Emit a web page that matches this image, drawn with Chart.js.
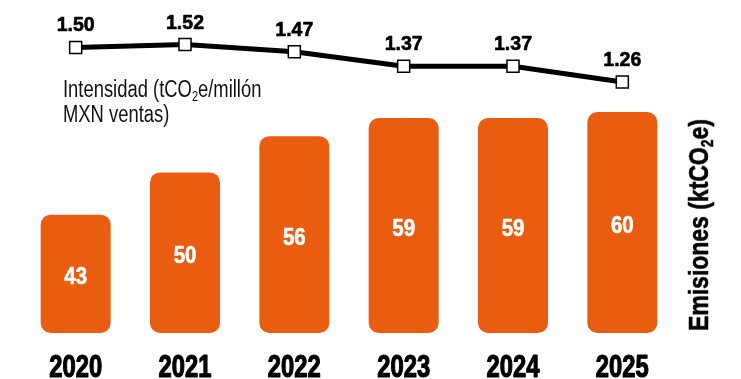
<!DOCTYPE html>
<html>
<head>
<meta charset="utf-8">
<script src="https://cdn.jsdelivr.net/npm/chart.js@4.4.1/dist/chart.umd.min.js"></script>
<style>
  html, body { margin: 0; padding: 0; background: #fff; }
  #wrap { position: relative; width: 741px; height: 379px; overflow: hidden; }
  canvas { position: absolute; left: 0; top: 0; }
  .note {
    position: absolute; left: 63px; top: 77px;
    transform: scaleX(0.8); transform-origin: 0 0;
    white-space: nowrap;
    font-family: "Liberation Sans", Arial, sans-serif;
    font-size: 23px; line-height: 25px; color: #111;
  }
  .note sub, .axis-title sub { font-size: 60%; vertical-align: -0.3em; line-height: 0; }
  .axis-title {
    position: absolute; left: 699px; top: 225px;
    transform: translate(-50%, -50%) rotate(-90deg) scaleX(0.82);
    white-space: nowrap; line-height: 1;
    font-family: "Liberation Sans", Arial, sans-serif;
    font-weight: bold; font-size: 28px; color: #000;
    -webkit-text-stroke: 0.6px #000;
  }
</style>
</head>
<body>
<div id="wrap">
  <canvas id="chart" width="741" height="379"></canvas>
  <div class="note">Intensidad (tCO<sub>2</sub>e/millón<br>MXN ventas)</div>
  <div class="axis-title">Emisiones (ktCO<sub>2</sub>e)</div>
</div>
<script>
// data
const years = ['2020', '2021', '2022', '2023', '2024', '2025'];
const emissions = [43, 50, 56, 59, 59, 60];
const intensity = [1.50, 1.52, 1.47, 1.37, 1.37, 1.26];

const orange = '#EA5C0F';
const fontFamily = '"Liberation Sans", Arial, sans-serif';

// narrow heavy text: no condensed face installed, so squeeze and thicken
function narrowText(ctx, text, x, y, sx, stroke) {
  ctx.save();
  ctx.translate(x, y);
  ctx.scale(sx, 1);
  ctx.fillText(text, 0, 0);
  if (stroke) {
    ctx.lineWidth = stroke;
    ctx.lineJoin = 'round';
    ctx.strokeStyle = ctx.fillStyle;
    ctx.strokeText(text, 0, 0);
  }
  ctx.restore();
}

// year labels, bar values and line values
const labelsPlugin = {
  id: 'labelsPlugin',
  afterDatasetsDraw(chart) {
    const ctx = chart.ctx;
    ctx.save();
    ctx.textAlign = 'center';
    ctx.textBaseline = 'alphabetic';

    const bars = chart.getDatasetMeta(1).data;
    ctx.fillStyle = '#fff';
    ctx.font = 'bold 23.5px ' + fontFamily;
    bars.forEach((bar, i) => {
      const mid = (bar.y + bar.base) / 2;
      narrowText(ctx, String(emissions[i]), bar.x, mid + 10, 0.87, 0.6);
    });

    const pts = chart.getDatasetMeta(0).data;
    ctx.fillStyle = '#000';
    ctx.font = 'bold 21px ' + fontFamily;
    pts.forEach((pt, i) => {
      narrowText(ctx, intensity[i].toFixed(2), pt.x, pt.y - 16, 0.93, 0.6);
    });

    const xScale = chart.scales.x;
    ctx.fillStyle = '#000';
    ctx.font = 'bold 30.5px ' + fontFamily;
    years.forEach((yr, i) => {
      narrowText(ctx, yr, xScale.getPixelForTick(i), 377, 0.78, 1.2);
    });
    ctx.restore();
  }
};

new Chart(document.getElementById('chart'), {
  data: {
    labels: years,
    datasets: [
      {
        type: 'line',
        data: intensity,
        yAxisID: 'y2',
        order: 0,
        borderColor: '#000',
        borderWidth: 5,
        tension: 0,
        pointStyle: 'rect',
        pointRadius: 8.5,
        pointBorderWidth: 1.5,
        pointBorderColor: '#000',
        pointBackgroundColor: '#fff',
        clip: false
      },
      {
        type: 'bar',
        data: emissions,
        yAxisID: 'y',
        order: 1,
        base: 23.4,
        backgroundColor: orange,
        borderRadius: 10,
        borderSkipped: false,
        barPercentage: 0.64,
        categoryPercentage: 1
      }
    ]
  },
  options: {
    responsive: false,
    animation: false,
    layout: { padding: { left: 21, right: 64, top: 10, bottom: 46 } },
    plugins: { legend: { display: false }, tooltip: { enabled: false } },
    scales: {
      x: { display: false },
      y: { display: false, min: 23.4, max: 76.9 },
      y2: { display: false, min: -0.48, max: 1.76 }
    }
  },
  plugins: [labelsPlugin]
});
</script>
</body>
</html>
